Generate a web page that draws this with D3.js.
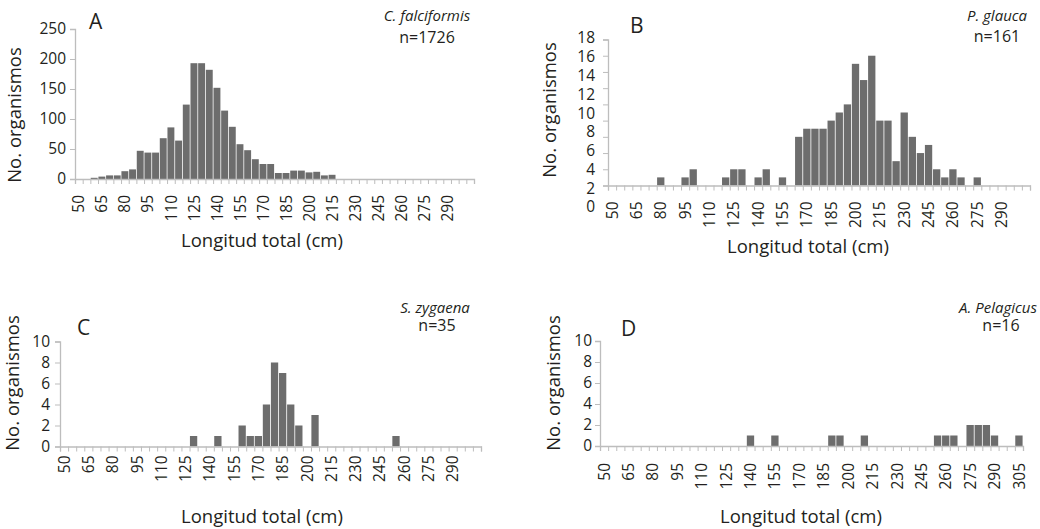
<!DOCTYPE html>
<html><head><meta charset="utf-8">
<script src="https://cdn.jsdelivr.net/npm/d3@7"></script>
<style>
html,body{margin:0;padding:0;background:#fff;}
svg{display:block;font-family:"Open Sans",sans-serif;}
</style></head><body>
<svg id="chart" width="1040" height="529"></svg>
<script>
// ---- data ----
const lengthBins = [50,55,60,65,70,75,80,85,90,95,100,105,110,115,120,125,130,135,140,145,150,155,160,165,170,175,180,185,190,195,200,205,210,215,220,225,230,235,240,245,250,255,260,265,270,275,280,285,290,295,300,305];
const countsFalciformis = [0,0,2,4,6,6,13,16,47,44,44,68,86,64,124,193,193,182,152,114,87,58,48,33,25,25,10,10,14,14,11,12,6,7,0,0,0,0,0,0,0,0,0,0,0,0,0,0,0,0,0,0];
const countsGlauca = [0,0,0,0,0,0,1,0,0,1,2,0,0,0,1,2,2,0,1,2,0,1,0,6,7,7,7,8,9,10,15,13,16,8,8,3,9,6,4,5,2,1,2,1,0,1,0,0,0,0,0,0];
const countsZygaena = [0,0,0,0,0,0,0,0,0,0,0,0,0,0,0,0,1,0,0,1,0,0,2,1,1,4,8,7,4,2,0,3,0,0,0,0,0,0,0,0,0,1,0,0,0,0,0,0,0,0,0,0];
const countsPelagicus = [0,0,0,0,0,0,0,0,0,0,0,0,0,0,0,0,0,0,1,0,0,1,0,0,0,0,0,0,1,1,0,0,1,0,0,0,0,0,0,0,0,1,1,1,0,2,2,2,1,0,0,1];
const xLabelsShort = [50,65,80,95,110,125,140,155,170,185,200,215,230,245,260,275,290];
const xLabelsLong = [50,65,80,95,110,125,140,155,170,185,200,215,230,245,260,275,290,305];
const yTicksA = [0,50,100,150,200,250];
const yTicksB = [0,2,4,6,8,10,12,14,16,18];
const yTicksSmall = [0,2,4,6,8,10];
const panelLetters = ["A","B","C","D"];
const speciesNames = ["C. falciformis","P. glauca","S. zygaena","A. Pelagicus"];
const sampleSizes = ["n=1726","n=161","n=35","n=16"];
const yTitle = "No. organismos";
const xTitle = "Longitud total (cm)";

// ---- layout ----
const panels = [
  {counts:countsFalciformis, xl:xLabelsShort, yt:yTicksA, ymax:250,
   x0:75, x1:474, y0:179, y1:29, lab0:179, lab1:29, labGap:16, ylabGap:9,
   letter:[89,29], sp:[427,21], n:[427,43], yT:[21,115], xT:[262,247]},
  {counts:countsGlauca, xl:xLabelsShort, yt:yTicksB, ymax:18,
   x0:608, x1:1030, y0:185.5, y1:39.5, lab0:207, lab1:38, labGap:16, ylabGap:13,
   letter:[630,33], sp:[997,21], n:[997,42], yT:[556,110], xT:[808,253]},
  {counts:countsZygaena, xl:xLabelsShort, yt:yTicksSmall, ymax:10,
   x0:60, x1:481, y0:446.5, y1:341.5, lab0:446.5, lab1:341.5, labGap:9, ylabGap:10,
   letter:[77,335], sp:[435,313], n:[437,331], yT:[19,383], xT:[262,523]},
  {counts:countsPelagicus, xl:xLabelsLong, yt:yTicksSmall, ymax:10,
   x0:600, x1:1023, y0:446, y1:341, lab0:446, lab1:341, labGap:17, ylabGap:8,
   letter:[621,336], sp:[998,313], n:[1001,331], yT:[560,383], xT:[801,523]}
];

const svg = d3.select("#chart");
const axisColor = "#bdbdbd";
const barColor = "#6d6d6d";
const textColor = "#231f20";

panels.forEach((p,i) => {
  const g = svg.append("g");
  const x = d3.scaleBand().domain(lengthBins).range([p.x0,p.x1]).paddingInner(0.1).paddingOuter(0.05);
  const xEdges = d3.scaleLinear().domain([0,lengthBins.length]).range([p.x0,p.x1]);
  const y = d3.scaleLinear().domain([0,p.ymax]).range([p.y0,p.y1]);
  const yLab = d3.scaleLinear().domain([0,p.ymax]).range([p.lab0,p.lab1]);

  // bars
  g.append("g").selectAll("rect")
    .data(lengthBins.map((b,k)=>({bin:b, v:p.counts[k]})).filter(d=>d.v>0))
    .join("rect")
    .attr("x", d=>x(d.bin)).attr("width", x.bandwidth())
    .attr("y", d=>y(d.v)).attr("height", d=>y(0)-y(d.v))
    .attr("fill", barColor);

  // x tick marks at bin edges
  const xt = g.append("g").attr("transform",`translate(0,${p.y0})`)
    .call(d3.axisBottom(xEdges).tickValues(d3.range(lengthBins.length+1)).tickSize(5).tickFormat(""));
  xt.selectAll("line").attr("stroke",axisColor);
  xt.select(".domain").attr("stroke",axisColor).attr("stroke-width",1.3);

  // x labels
  const xlg = g.append("g").attr("transform",`translate(0,${p.y0})`)
    .call(d3.axisBottom(x).tickValues(p.xl).tickSize(0));
  xlg.select(".domain").remove();
  xlg.selectAll("text")
    .attr("transform","rotate(-90)").attr("text-anchor","end")
    .attr("x",-p.labGap).attr("y",0).attr("dy","0.36em")
    .attr("font-size",15.5).attr("fill",textColor).attr("font-family","'Open Sans',sans-serif");

  // y ticks
  const yt = g.append("g").attr("transform",`translate(${p.x0},0)`)
    .call(d3.axisLeft(y).tickValues(p.yt).tickSize(5).tickFormat(""));
  yt.selectAll("line").attr("stroke",axisColor);
  yt.select(".domain").attr("stroke",axisColor).attr("stroke-width",1.3);

  // y labels
  const ylg = g.append("g").attr("transform",`translate(${p.x0},0)`)
    .call(d3.axisLeft(yLab).tickValues(p.yt).tickSize(0).tickPadding(p.ylabGap));
  ylg.select(".domain").remove();
  ylg.selectAll("text").attr("font-size",15.5).attr("fill",textColor).attr("font-family","'Open Sans',sans-serif");

  // texts
  g.append("text").attr("x",p.letter[0]).attr("y",p.letter[1]).text(panelLetters[i])
    .attr("font-size",21).attr("fill",textColor);
  g.append("text").attr("x",p.sp[0]).attr("y",p.sp[1]).attr("text-anchor","middle")
    .attr("font-style","italic").attr("font-size",15).attr("fill",textColor).text(speciesNames[i]);
  g.append("text").attr("x",p.n[0]).attr("y",p.n[1]).attr("text-anchor","middle")
    .attr("font-size",16).attr("fill",textColor).text(sampleSizes[i]);
  g.append("text").attr("transform",`translate(${p.yT[0]},${p.yT[1]}) rotate(-90)`)
    .attr("text-anchor","middle").attr("font-size",18.5).attr("fill",textColor).text(yTitle);
  g.append("text").attr("x",p.xT[0]).attr("y",p.xT[1]).attr("text-anchor","middle")
    .attr("font-size",18.5).attr("fill",textColor).text(xTitle);
});
</script>
</body></html>
